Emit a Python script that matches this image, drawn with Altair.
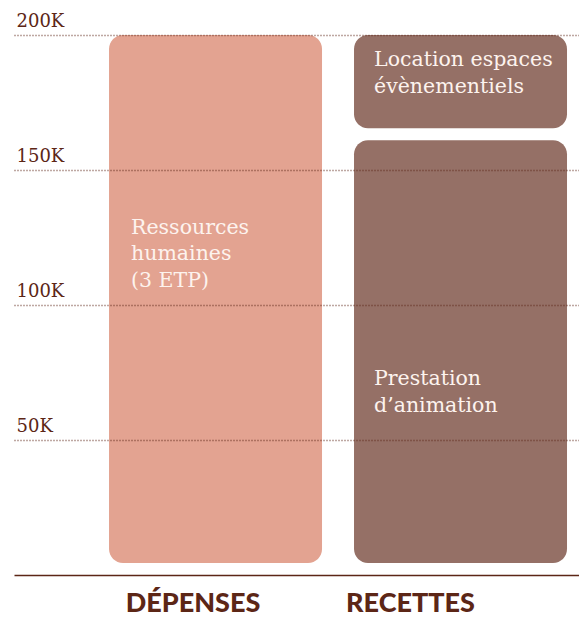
import altair as alt
import pandas as pd

# ---- data ----
categories = ["DÉPENSES", "RECETTES", "RECETTES"]
segments = ["Ressources\nhumaines\n(3 ETP)", "Prestation\nd’animation", "Location espaces\névènementiels"]
values = [200000, 161000, 39000]
cat_labels = ["DÉPENSES", "RECETTES"]
y_ticks = [50000, 100000, 150000, 200000]

df = pd.DataFrame({"cat": categories, "seg": segments, "value": values})
df["end"] = df.groupby("cat")["value"].cumsum()
df["start"] = df["end"] - df["value"]
cats_df = pd.DataFrame({"cat": cat_labels})

PINK = "#E3A391"
BROWN = "#957066"
DARK = "#5C2616"
LIGHT = "#FDF3EE"
SERIF = "DejaVu Serif"

xscale = alt.Scale(domain=cat_labels, paddingInner=0.1306, paddingOuter=0.2184, align=0.888)
yscale = alt.Scale(domain=[0, 200000], nice=False)

xaxis = alt.Axis(labels=False, ticks=False, title=None, grid=False,
                 domain=True, domainColor=DARK, domainWidth=1.5)
yaxis = alt.Axis(values=y_ticks, labelExpr="datum.value / 1000 + 'K'",
                 title=None, domain=False, ticks=False, tickSize=0,
                 labelAlign="left", labelBaseline="alphabetic",
                 labelPadding=-2, labelOffset=-9,
                 labelFont=SERIF, labelFontSize=18, labelColor=DARK,
                 grid=True, gridColor=DARK, gridDash=[1, 2], gridWidth=1.5,
                 gridOpacity=0.8, zindex=1)

bars = alt.Chart(df).mark_bar(cornerRadius=14, y2Offset=-12).encode(
    x=alt.X("cat:N", scale=xscale, sort=cat_labels, axis=xaxis),
    y=alt.Y("end:Q", scale=yscale, axis=yaxis),
    y2="start:Q",
    color=alt.Color("cat:N", scale=alt.Scale(domain=cat_labels, range=[PINK, BROWN]), legend=None),
)


def seg_text(name, dx, dy):
    return alt.Chart(df).transform_filter(
        alt.FieldEqualPredicate(field="seg", equal=name)
    ).mark_text(align="left", baseline="alphabetic", dx=dx, dy=dy, lineBreak="\n",
                lineHeight=26.5, font=SERIF, fontSize=20.5, color=LIGHT).encode(
        x=alt.X("cat:N", scale=xscale, sort=cat_labels, bandPosition=0, axis=xaxis),
        y=alt.Y("end:Q", scale=yscale, axis=yaxis),
        text="seg:N",
    )


def cat_text(name, dx):
    return alt.Chart(cats_df).transform_filter(
        alt.FieldEqualPredicate(field="cat", equal=name)
    ).mark_text(align="center", baseline="alphabetic", dx=dx, font="Lato",
                fontSize=27, fontWeight=900, color=DARK).encode(
        x=alt.X("cat:N", scale=xscale, sort=cat_labels, axis=xaxis),
        y=alt.value(577),
        text="cat:N",
    )


chart = alt.layer(
    bars,
    seg_text(segments[0], 22, 198.5),
    seg_text(segments[1], 20, 244.7),
    seg_text(segments[2], 20, 31),
    cat_text(cat_labels[0], -22.5),
    cat_text(cat_labels[1], -50),
).properties(
    width=565, height=540,
    autosize=alt.AutoSizeParams(type="none"),
    padding={"left": 6, "top": 27, "right": 0, "bottom": 48},
).configure_view(stroke=None)

chart.save("out.html", embed_options={"renderer": "svg", "actions": False})
